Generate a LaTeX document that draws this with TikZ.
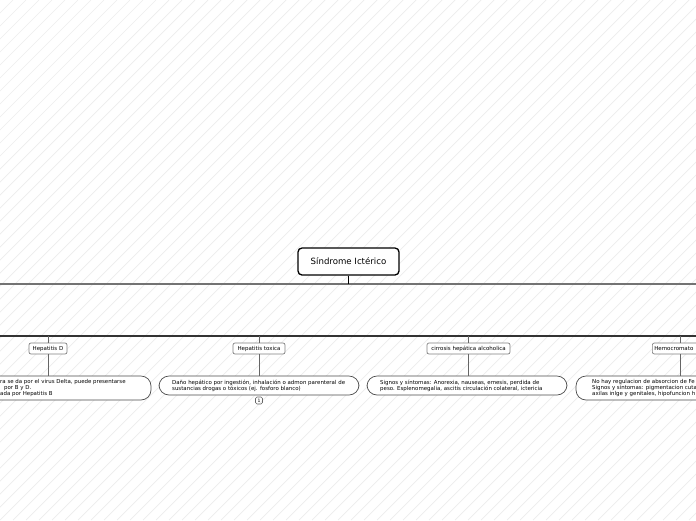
\documentclass[tikz,border=0pt]{standalone}
\usepackage{fontspec}
\setmainfont{DejaVu Sans}
\begin{document}
\begin{tikzpicture}[x=1pt,y=-1pt,
  hatch/.style={draw=black!7,line width=0.7pt},
  rootbox/.style={draw=black,line width=1.3pt,rounded corners=4pt,fill=white,minimum width=101pt,minimum height=27pt,inner sep=0pt,font=\fontsize{8.6}{9}\selectfont},
  childbox/.style={draw=black!50,line width=0.7pt,rounded corners=2pt,fill=white,minimum height=11pt,inner sep=0pt,font=\fontsize{5.5}{6}\selectfont},
  leafbox/.style={draw=black!70,line width=0.7pt,rounded corners=10pt,fill=white},
  leaftext/.style={inner sep=0pt,align=left,font=\fontsize{5.45}{6.1}\selectfont,anchor=north west},
  topline/.style={draw=black!55,line width=1.6pt},
  midline/.style={draw=black!80,line width=2.2pt},
  conn/.style={draw=black!60,line width=0.7pt},
  rootconn/.style={draw=black,line width=1.1pt},
  badge/.style={draw=black!60,line width=0.6pt,rounded corners=1.5pt,minimum width=7pt,minimum height=7pt,inner sep=0pt,font=\fontsize{4.5}{5}\selectfont}]
\useasboundingbox (0,0) rectangle (696,520);
\clip (0,0) rectangle (696,520);
\fill[white] (0,0) rectangle (696,520);
% faint diagonal hatching
\foreach \i in {-520,-507,...,700} \draw[hatch] (\i,520) -- (\i+520,0);

% main lines
\coordinate (tl) at (0,284);
\coordinate (tr) at (696,284);
\coordinate (ml) at (0,336);
\coordinate (mr) at (696,336);
\draw[topline] (tl) -- (tr);
\draw[midline] (ml) -- (mr);

% root
\node[rootbox] (root) at (348.5,261.5) {Síndrome Ictérico};
\draw[rootconn] (root.south) -- (root.south |- tl);

% children
\node[childbox,minimum width=38pt] (hd) at (48,348.5) {Hepatitis D};
\node[childbox,minimum width=52pt] (ht) at (259,348.5) {Hepatitis toxica};
\node[childbox,minimum width=83pt] (ca) at (468.5,348.5) {cirrosis hepática alcoholica};
\node[childbox,minimum width=60pt,anchor=west,text width=56pt,align=left] (hc) at (652,348.5) {Hemocromato};

\foreach \n in {hd,ht,ca} \draw[conn] (\n.north |- ml) -- (\n.north);
\coordinate (hctop) at (680,343);
\draw[conn] (hctop |- ml) -- (hctop);

% leaves
\path[leafbox] (-60,376) rectangle (151,400);
\node[inner sep=0pt,minimum width=211pt,minimum height=24pt] (l1) at (45.5,388) {};
\node[leaftext] (l1t) at (0,379) {ra se da por el virus Delta, puede presentarse\\\hspace*{4pt}por B y D.\\ada por Hepatitis B};

\node[leafbox,minimum width=200pt,minimum height=19pt,inner sep=0pt] (l2) at (259,385.5) {};
\node[leaftext] (l2t) at (172,379.5) {Daño hepático por ingestión, inhalación o admon parenteral de\\sustancias drogas o tóxicos (ej. fosforo blanco)};
\node[badge] (b1) at (259,400.5) {1};

\node[leafbox,minimum width=200pt,minimum height=19pt,inner sep=0pt] (l3) at (467,385.5) {};
\node[leaftext] (l3t) at (380,379.5) {Signos y síntomas: Anorexia, nauseas, emesis, perdida de\\peso. Esplenomegalia, ascitis circulación colateral, ictericia};

\path[leafbox] (576,376) rectangle (830,400);
\node[inner sep=0pt,minimum width=254pt,minimum height=24pt] (l4) at (703,388) {};
\node[leaftext] (l4t) at (592,379) {No hay regulacion de absorcion de Fe\\Signos y síntomas: pigmentacion cuta\\axilas inlge y genitales, hipofuncion h};

\draw[conn] (hd.south) -- (hd.south |- l1.north);
\draw[conn] (ht.south) -- (l2.north);
\draw[conn] (ca.south) -- (ca.south |- l3.north);
\draw[conn] (hctop |- hc.south) -- (hctop |- l4.north);
\end{tikzpicture}
\end{document}
